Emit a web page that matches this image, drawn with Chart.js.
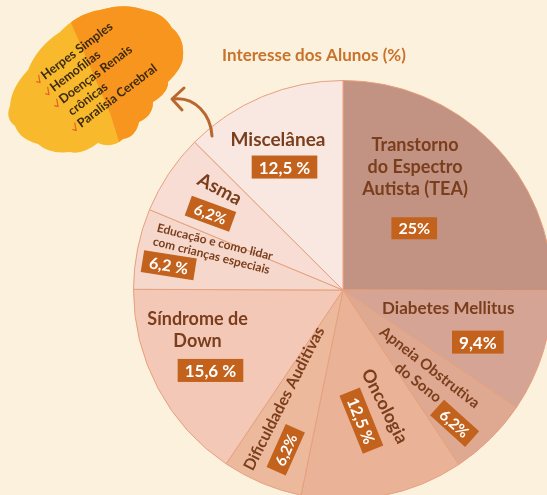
<!DOCTYPE html>
<html>
<head>
<meta charset="utf-8">
<script src="https://cdn.jsdelivr.net/npm/chart.js@4.4.0/dist/chart.umd.min.js"></script>
<style>
  html, body { margin: 0; padding: 0; width: 547px; height: 495px; overflow: hidden; background: #fbf1dd; }
  #wrap { position: absolute; left: 0; top: 0; width: 560px; height: 510px; }
</style>
</head>
<body>
<div id="wrap"><canvas id="chart" width="560" height="510"></canvas></div>
<script>
// dados
const categories = [
  ['Transtorno', 'do Espectro', 'Autista (TEA)'],
  ['Diabetes Mellitus'],
  ['Apneia Obstrutiva', 'do Sono'],
  ['Oncologia'],
  ['Dificuldades Auditivas'],
  ['Síndrome de', 'Down'],
  ['Educação e como lidar', 'com crianças especiais'],
  ['Asma'],
  ['Miscelânea']
];
const values = [25, 9.4, 6.2, 12.5, 6.2, 15.6, 6.2, 6.2, 12.5];
const valueLabels = ['25%', '9,4%', '6,2%', '12,5 %', '6,2%', '15,6 %', '6,2 %', '6,2%', '12,5 %'];
const miscItems = ['Herpes Simples', 'Hemofilias', 'Doenças Renais', 'crônicas', 'Paralisia Cerebral'];
const miscChecks = [true, true, true, false, true];

const sliceColors = ['#c29283', '#d5a494', '#dea891', '#eab297', '#edb99d', '#f4c8b6', '#f6d7cb', '#f7ddd4', '#f9e8e2'];

// posição dos rótulos: ângulo relativo ao meio da fatia (graus), fração do raio, rotação
const labelLayout = [
  { ta: -14.7, tf: 0.68, tr: 0,   size: 18, lh: 22, ba: 4,    bf: 0.45, br: 0,   bs: 16 },
  { ta: -7.2,  tf: 0.51, tr: 0,   size: 17, lh: 20, ba: 4,    bf: 0.69, br: 0,   bs: 17 },
  { ta: 1.2,   tf: 0.56, tr: 38,  size: 15, lh: 19, ba: 4.8,  bf: 0.83, br: 42,  bs: 15 },
  { ta: -8.7,  tf: 0.59, tr: 63,  size: 18, lh: 20, ba: 3,    bf: 0.63, br: 68,  bs: 16 },
  { ta: 5.7,   tf: 0.59, tr: -63, size: 16, lh: 20, ba: -3,   bf: 0.81, br: -66, bs: 15 },
  { ta: 12.6,  tf: 0.72, tr: 0,   size: 18, lh: 22, ba: -3.3, bf: 0.74, br: 0,   bs: 17 },
  { ta: 6.2,   tf: 0.65, tr: 14,  size: 12, lh: 14, ba: -3.3, bf: 0.84, br: 9,   bs: 16 },
  { ta: 5.5,   tf: 0.76, tr: 28,  size: 19, lh: 20, ba: -3.8, bf: 0.73, br: 20,  bs: 15 },
  { ta: -0.9,  tf: 0.78, tr: 0,   size: 19, lh: 20, ba: -2.9, bf: 0.65, br: 0,   bs: 17 }
];

const textColor = '#7a3e1c';
const boxColor = '#c2621d';
const fontFamily = 'Lato, "Open Sans", sans-serif';

function drawCloud(ctx) {
  const pts = [[10,106],[28,70],[60,32],[100,10],[145,10],[172,28],[183,56],[168,82],[153,102],[139,122],[123,139],[98,143],[70,152],[38,144],[15,126]];
  let cx = 0, cy = 0;
  pts.forEach(p => { cx += p[0]; cy += p[1]; });
  cx /= pts.length; cy /= pts.length;
  ctx.save();
  ctx.beginPath();
  ctx.moveTo(pts[0][0], pts[0][1]);
  for (let i = 0; i < pts.length; i++) {
    const a = pts[i], b = pts[(i + 1) % pts.length];
    const mx = (a[0] + b[0]) / 2, my = (a[1] + b[1]) / 2;
    const dx = mx - cx, dy = my - cy, d = Math.hypot(dx, dy);
    ctx.quadraticCurveTo(mx + dx / d * 8, my + dy / d * 8, b[0], b[1]);
  }
  ctx.closePath();
  ctx.fillStyle = '#f8ba2c';
  ctx.fill();
  ctx.clip();
  ctx.beginPath();
  ctx.moveTo(60, -5); ctx.lineTo(260, -5); ctx.lineTo(260, 200); ctx.lineTo(128, 170);
  ctx.lineTo(110, 113); ctx.lineTo(72, 25);
  ctx.closePath();
  ctx.fillStyle = '#f7951e';
  ctx.fill();
  ctx.restore();

  // lista
  ctx.save();
  ctx.translate(37, 81);
  ctx.rotate(-37 * Math.PI / 180);
  ctx.font = 'bold 12.5px ' + fontFamily;
  ctx.textBaseline = 'middle';
  ctx.textAlign = 'left';
  miscItems.forEach((txt, k) => {
    const y = k * 15;
    if (miscChecks[k]) {
      ctx.strokeStyle = '#e2602a';
      ctx.lineWidth = 1.2;
      ctx.beginPath();
      ctx.moveTo(-1, y); ctx.lineTo(1.5, y + 3); ctx.lineTo(5, y - 4);
      ctx.stroke();
    }
    ctx.fillStyle = '#3b2a12';
    ctx.fillText(txt, 7, y);
  });
  ctx.restore();
}

function drawArrow(ctx) {
  ctx.save();
  ctx.strokeStyle = '#b9662f';
  ctx.lineWidth = 3;
  ctx.lineCap = 'round';
  ctx.lineJoin = 'round';
  ctx.beginPath();
  ctx.moveTo(212, 136);
  ctx.bezierCurveTo(211, 115, 195, 96, 173, 99);
  ctx.stroke();
  ctx.beginPath();
  ctx.moveTo(184, 88); ctx.lineTo(172, 99); ctx.lineTo(182, 110);
  ctx.stroke();
  ctx.restore();
}

const labelPlugin = {
  id: 'sliceLabels',
  afterDraw(chart) {
    const ctx = chart.ctx;
    const meta = chart.getDatasetMeta(0);
    meta.data.forEach((arc, i) => {
      const p = arc.getProps(['x', 'y', 'startAngle', 'endAngle', 'outerRadius'], true);
      const mid = (p.startAngle + p.endAngle) / 2;
      const lay = labelLayout[i];
      const pos = (off, f) => {
        const a = mid + off * Math.PI / 180;
        return [p.x + Math.cos(a) * f * p.outerRadius, p.y + Math.sin(a) * f * p.outerRadius];
      };
      // nome
      const [tx, ty] = pos(lay.ta, lay.tf);
      ctx.save();
      ctx.translate(tx, ty);
      ctx.rotate(lay.tr * Math.PI / 180);
      ctx.font = 'bold ' + lay.size + 'px ' + fontFamily;
      ctx.fillStyle = textColor;
      ctx.textAlign = 'center';
      ctx.textBaseline = 'middle';
      const lines = categories[i];
      lines.forEach((ln, k) => ctx.fillText(ln, 0, (k - (lines.length - 1) / 2) * lay.lh));
      ctx.restore();
      // caixa do valor
      const [bx, by] = pos(lay.ba, lay.bf);
      ctx.save();
      ctx.translate(bx, by);
      ctx.rotate(lay.br * Math.PI / 180);
      ctx.font = 'bold ' + lay.bs + 'px ' + fontFamily;
      const w = ctx.measureText(valueLabels[i]).width + 14;
      const h = lay.bs + 6;
      ctx.fillStyle = boxColor;
      ctx.fillRect(-w / 2, -h / 2, w, h);
      ctx.fillStyle = '#ffffff';
      ctx.textAlign = 'center';
      ctx.textBaseline = 'middle';
      ctx.fillText(valueLabels[i], 0, 1);
      ctx.restore();
    });

    drawCloud(ctx);
    drawArrow(ctx);

    ctx.save();
    ctx.font = 'bold 17px ' + fontFamily;
    ctx.fillStyle = '#c8722c';
    ctx.textAlign = 'center';
    ctx.textBaseline = 'middle';
    ctx.fillText('Interesse dos Alunos (%)', 314, 56);
    ctx.restore();
  }
};

new Chart(document.getElementById('chart'), {
  type: 'pie',
  data: {
    labels: categories.map(c => c.join(' ')),
    datasets: [{
      data: values,
      backgroundColor: sliceColors,
      borderColor: '#e6a07d',
      borderWidth: 1
    }]
  },
  options: {
    responsive: false,
    animation: false,
    layout: { padding: { left: 133, top: 80, right: 7, bottom: 10 } },
    plugins: {
      legend: { display: false },
      tooltip: { enabled: false },
      title: { display: false }
    }
  },
  plugins: [labelPlugin]
});
</script>
</body>
</html>
